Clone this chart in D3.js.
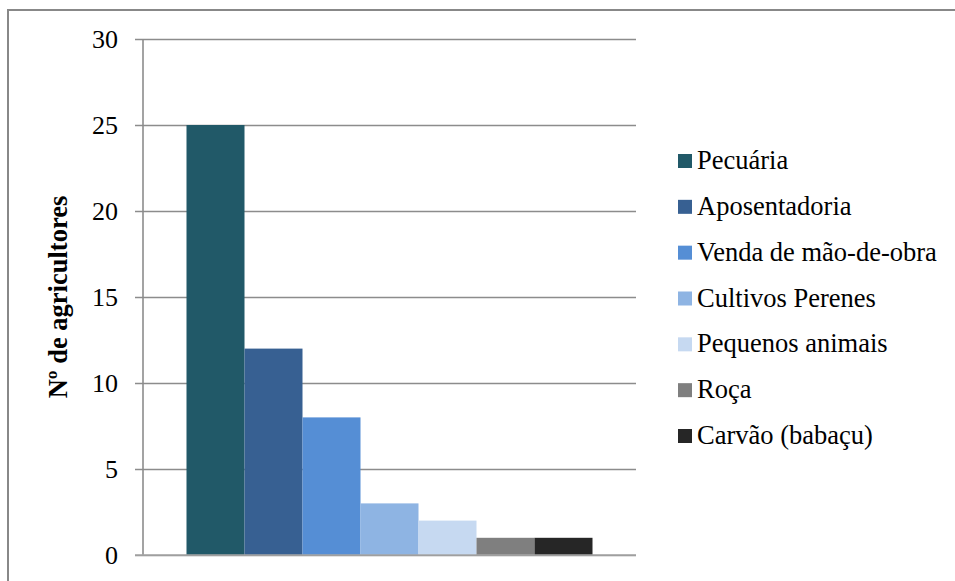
<!DOCTYPE html>
<html>
<head>
<meta charset="utf-8">
<script src="https://cdn.jsdelivr.net/npm/d3@7"></script>
<style>
  html, body { margin: 0; padding: 0; background: #fff; }
</style>
</head>
<body>
<svg id="chart" width="955" height="581"></svg>
<script>
// Income sources of the surveyed farmers
const categories = ["Pecuária", "Aposentadoria", "Venda de mão-de-obra", "Cultivos Perenes",
                    "Pequenos animais", "Roça", "Carvão (babaçu)"];
const values = [25, 12, 8, 3, 2, 1, 1];
const colors = ["#215968", "#376092", "#558ED5", "#8EB4E3", "#C6D9F1", "#7F7F7F", "#262626"];
const yTicks = [0, 5, 10, 15, 20, 25, 30];
const yTitle = "Nº de agricultores";

const SERIF = "'Liberation Serif', 'Times New Roman', Times, serif";
const svg = d3.select("#chart");

// outer chart frame
svg.append("rect")
  .attr("x", 8).attr("y", 10)
  .attr("width", 1000).attr("height", 700)
  .attr("fill", "none").attr("stroke", "#888").attr("stroke-width", 2);

const plot = { left: 143, right: 636, top: 39, bottom: 555 };

const y = d3.scaleLinear().domain([0, 30]).range([plot.bottom, plot.top]);

// single category group; the seven series sit side by side with a 150% gap
const x = d3.scaleBand().domain(categories)
  .range([plot.left, plot.right])
  .paddingInner(0)
  .paddingOuter(0.75);

// horizontal gridlines with outside tick marks
const yAxis = d3.axisLeft(y).tickValues(yTicks).tickSize(-(plot.right - plot.left))
  .tickPadding(25).tickFormat(d3.format("d"));
const gy = svg.append("g").attr("transform", `translate(${plot.left},0)`).call(yAxis)
  .attr("font-family", SERIF).attr("font-size", 26);
gy.select(".domain").remove();
gy.selectAll(".tick line")
  .attr("x1", -8)
  .attr("stroke", "#8c8c8c").attr("stroke-width", 1.6);
gy.selectAll(".tick text")
  .attr("fill", "#000")
  .style("font-size", "26px")
  .style("font-family", SERIF);

// vertical axis line
svg.append("line")
  .attr("x1", plot.left).attr("x2", plot.left)
  .attr("y1", plot.top).attr("y2", plot.bottom)
  .attr("stroke", "#8c8c8c").attr("stroke-width", 1.6);

// bars
svg.append("g").selectAll("rect")
  .data(categories)
  .join("rect")
  .attr("x", d => x(d))
  .attr("width", x.bandwidth())
  .attr("y", (d, i) => y(values[i]))
  .attr("height", (d, i) => y(0) - y(values[i]))
  .attr("fill", (d, i) => colors[i]);

// redraw baseline on top of bars
svg.append("line")
  .attr("x1", plot.left - 8).attr("x2", plot.right)
  .attr("y1", y(0)).attr("y2", y(0))
  .attr("stroke", "#a6a6a6").attr("stroke-width", 1.6);

// y-axis title
svg.append("text")
  .attr("transform", `translate(67,${(plot.top + plot.bottom) / 2}) rotate(-90)`)
  .attr("text-anchor", "middle")
  .style("font-family", SERIF)
  .style("font-size", "26.5px")
  .style("font-weight", "bold")
  .text(yTitle);

// legend
const legend = svg.append("g").attr("transform", "translate(678,0)");
const rowY = d3.scaleLinear().domain([0, categories.length - 1]).range([161, 436]);
const items = legend.selectAll("g").data(categories).join("g")
  .attr("transform", (d, i) => `translate(0,${rowY(i)})`);
items.append("rect")
  .attr("x", 0).attr("y", -7).attr("width", 14).attr("height", 14)
  .attr("fill", (d, i) => colors[i]);
items.append("text")
  .attr("x", 19).attr("y", 8)
  .style("font-family", SERIF)
  .style("font-size", "26.5px")
  .attr("fill", "#000")
  .text(d => d);
</script>
</body>
</html>
